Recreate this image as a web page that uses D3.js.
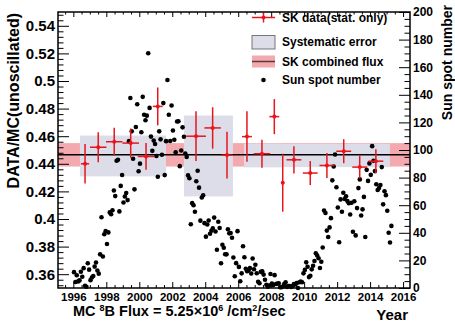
<!DOCTYPE html>
<html>
<head>
<meta charset="utf-8">
<script src="https://cdn.jsdelivr.net/npm/d3@7"></script>
<style>
  body { margin: 0; background: #fff; }
  svg { display: block; font-family: "Liberation Sans", Arial, Helvetica, sans-serif; }
  .ax text { font-weight: bold; fill: #000; }
  .ax line { stroke: #000; stroke-width: 1; }
</style>
</head>
<body>
<div id="chart"></div>
<script>
// ---- data ----
// SK yearly points: bin centre (year), DATA/MC, stat error, half bin width
const skYear = [1996.71, 1997.51, 1998.48, 1999.48, 2000.41, 2001.12, 2003.44, 2004.45, 2005.32,
                2006.53, 2007.44, 2008.19, 2008.7, 2009.38, 2010.37, 2011.38, 2012.4, 2013.37, 2014.35];
const skRatio = [0.440, 0.452, 0.456, 0.455, 0.4453, 0.4816, 0.460, 0.466, 0.4463,
                 0.4597, 0.4473, 0.4742, 0.4263, 0.4429, 0.4333, 0.4388, 0.4491, 0.4376, 0.4419];
const skErr = [0.0143, 0.0108, 0.0101, 0.0106, 0.0097, 0.0137, 0.018, 0.015, 0.017,
               0.0183, 0.0102, 0.0127, 0.021, 0.0099, 0.0087, 0.009, 0.0087, 0.0082, 0.0087];
const skHalfBin = [0.25, 0.5, 0.5, 0.5, 0.5, 0.3, 0.6, 0.5, 0.35,
                   0.3, 0.5, 0.3, 0.1, 0.45, 0.45, 0.45, 0.45, 0.45, 0.45];

// systematic error boxes per SK phase
const sysPhases = ["SK-I", "SK-II", "SK-III", "SK-IV"];
const sysStart = [1996.40, 2002.71, 2006.35, 2008.65];
const sysEnd = [2001.62, 2005.68, 2008.65, 2015.20];
const sysLow = [0.4309, 0.4164, 0.4374, 0.4376];
const sysHigh = [0.4605, 0.475, 0.4547, 0.4545];

// combined flux and its band
const combined = 0.4465;
const combinedLow = 0.438;
const combinedHigh = 0.455;

// monthly sun spot numbers, one row per year starting 1996
const ssnFirstYear = 1996;
const sunspots = [
  [11.5, 4.4, 9.2, 4.8, 5.5, 11.8, 8.2, 14.4, 1.6, 0.9, 17.9, 13.3],
  [5.7, 7.6, 8.7, 15.5, 18.5, 12.7, 10.4, 24.4, 51.3, 22.8, 39.0, 41.2],
  [31.9, 40.3, 54.8, 53.4, 56.3, 70.7, 66.6, 92.2, 92.9, 55.5, 74.0, 81.9],
  [62.0, 66.3, 68.8, 63.7, 106.4, 137.7, 113.5, 93.7, 71.5, 116.7, 133.2, 84.6],
  [90.1, 112.9, 138.5, 125.5, 121.6, 124.9, 170.1, 130.5, 109.7, 99.4, 106.8, 104.4],
  [95.6, 80.6, 113.5, 107.7, 96.6, 134.0, 81.8, 106.4, 150.7, 125.5, 106.5, 132.2],
  [114.1, 107.4, 98.4, 120.7, 120.8, 88.3, 99.6, 116.4, 109.6, 97.5, 95.0, 81.6],
  [79.5, 46.2, 61.5, 60.0, 55.2, 77.4, 85.0, 72.7, 48.8, 65.6, 67.2, 47.0],
  [37.2, 46.0, 48.9, 39.3, 41.5, 43.2, 51.0, 40.9, 27.7, 48.0, 43.5, 17.9],
  [31.3, 29.2, 24.5, 24.4, 42.6, 39.6, 39.9, 36.4, 22.1, 8.5, 18.0, 41.2],
  [15.3, 4.9, 10.6, 30.2, 22.3, 13.9, 12.2, 12.9, 14.4, 10.5, 21.4, 13.6],
  [16.8, 10.7, 4.5, 3.4, 11.7, 12.1, 9.7, 6.0, 2.4, 0.9, 1.7, 10.1],
  [3.3, 2.1, 9.3, 2.9, 3.2, 3.4, 0.5, 0.5, 1.1, 2.9, 4.1, 0.8],
  [1.5, 1.4, 0.7, 1.2, 2.9, 2.6, 3.5, 0.0, 4.2, 4.6, 4.2, 10.6],
  [13.1, 18.6, 15.4, 7.9, 8.8, 13.5, 16.1, 19.6, 25.2, 23.5, 21.6, 14.5],
  [19.0, 29.4, 56.2, 54.4, 41.6, 37.0, 43.9, 50.6, 78.0, 88.0, 96.7, 73.0],
  [58.3, 33.1, 64.2, 55.2, 69.0, 64.5, 66.5, 63.0, 61.4, 53.3, 61.8, 40.8],
  [62.9, 38.1, 57.9, 72.4, 78.7, 52.5, 57.0, 66.0, 37.0, 85.6, 77.6, 90.3],
  [82.0, 102.8, 92.2, 84.7, 75.2, 71.0, 72.4, 74.6, 87.6, 60.6, 70.1, 67.3],
  [56, 40, 33, 45]
];

// tick values
const yearTicks = [1996, 1998, 2000, 2002, 2004, 2006, 2008, 2010, 2012, 2014, 2016];
const ratioTicks = [0.36, 0.38, 0.4, 0.42, 0.44, 0.46, 0.48, 0.5, 0.52, 0.54];
const ssnTicks = [0, 20, 40, 60, 80, 100, 120, 140, 160, 180, 200];

const legendLabels = ["SK data(stat. only)", "Systematic error", "SK combined flux", "Sun spot number"];

// ---- layout ----
const svgWidth = 455, svgHeight = 325;
const margin = {top: 12, right: 45, bottom: 37, left: 58};
const w = svgWidth - margin.left - margin.right;
const h = svgHeight - margin.top - margin.bottom;

const red = "#e8151d";
const pink = "#f4a9ae";
const grey = "#dcdde9";

const root = d3.select("#chart").append("svg")
  .attr("width", svgWidth)
  .attr("height", svgHeight);
const svg = root.append("g")
  .attr("transform", `translate(${margin.left}, ${margin.top})`);

const x = d3.scaleLinear().domain([1995.07, 2016.42]).range([0, w]);
const y = d3.scaleLinear().domain([0.35, 0.55]).range([h, 0]);
const y2 = d3.scaleLinear().domain([0, 200]).range([h, 0]);

// flatten sunspots
const ssnData = [];
sunspots.forEach((row, i) => row.forEach((v, m) => {
  ssnData.push({t: ssnFirstYear + i + (m + 0.5) / 12, v: v});
}));

// combined flux band
svg.append("rect")
  .attr("x", 0).attr("width", w)
  .attr("y", y(combinedHigh)).attr("height", y(combinedLow) - y(combinedHigh))
  .attr("fill", pink);

// systematic boxes
svg.selectAll("rect.sys")
  .data(sysPhases)
  .enter().append("rect")
  .attr("class", "sys")
  .attr("x", (d, i) => x(sysStart[i]))
  .attr("width", (d, i) => x(sysEnd[i]) - x(sysStart[i]))
  .attr("y", (d, i) => y(sysHigh[i]))
  .attr("height", (d, i) => y(sysLow[i]) - y(sysHigh[i]))
  .attr("fill", grey);

// combined line
svg.append("line")
  .attr("x1", 0).attr("x2", w)
  .attr("y1", y(combined)).attr("y2", y(combined))
  .attr("stroke", "#000").attr("stroke-width", 1.5);

// sunspot dots
svg.selectAll("circle.ssn")
  .data(ssnData)
  .enter().append("circle")
  .attr("class", "ssn")
  .attr("cx", d => x(d.t))
  .attr("cy", d => y2(d.v))
  .attr("r", 2.3)
  .attr("fill", "#000");

// SK points
const sk = svg.selectAll("g.sk")
  .data(skYear)
  .enter().append("g")
  .attr("class", "sk");
sk.append("line")
  .attr("x1", (d, i) => x(d - skHalfBin[i]))
  .attr("x2", (d, i) => x(d + skHalfBin[i]))
  .attr("y1", (d, i) => y(skRatio[i]))
  .attr("y2", (d, i) => y(skRatio[i]))
  .attr("stroke", red).attr("stroke-width", 1.5);
sk.append("line")
  .attr("x1", d => x(d)).attr("x2", d => x(d))
  .attr("y1", (d, i) => y(skRatio[i] + skErr[i]))
  .attr("y2", (d, i) => y(skRatio[i] - skErr[i]))
  .attr("stroke", red).attr("stroke-width", 1.5);
sk.append("circle")
  .attr("cx", d => x(d))
  .attr("cy", (d, i) => y(skRatio[i]))
  .attr("r", 2)
  .attr("fill", red);

// ---- axes (ROOT style, ticks inside) ----
const fmtRatio = d => String(+d.toFixed(2));
const minorRatio = d3.range(0.352, 0.5499, 0.004).filter(v => !ratioTicks.some(t => Math.abs(t - v) < 1e-6));
const minorYear = d3.range(1995.5, 2016.42, 0.5).filter(v => v % 2 !== 0);
const minorSsn = d3.range(0, 201, 5).filter(v => v % 20 !== 0);

function styleAxis(g, size) {
  g.attr("class", "ax");
  g.select(".domain").remove();
  g.selectAll("text").style("font-size", size + "px");
}

svg.append("g")
  .call(d3.axisLeft(y).tickValues(ratioTicks).tickSize(-11).tickPadding(3).tickFormat(fmtRatio))
  .call(g => styleAxis(g, 15));
svg.append("g")
  .call(d3.axisLeft(y).tickValues(minorRatio).tickSize(-5.5).tickFormat(""))
  .call(g => styleAxis(g, 15));

svg.append("g")
  .attr("transform", `translate(0, ${h})`)
  .call(d3.axisBottom(x).tickValues(yearTicks).tickSize(-6).tickPadding(5).tickFormat(d3.format("d")))
  .call(g => styleAxis(g, 11.5));
svg.append("g")
  .attr("transform", `translate(0, ${h})`)
  .call(d3.axisBottom(x).tickValues(minorYear).tickSize(-3).tickFormat(""))
  .call(g => styleAxis(g, 11.5));

svg.append("g")
  .call(d3.axisTop(x).tickValues(yearTicks).tickSize(-5).tickFormat(""))
  .call(g => styleAxis(g, 11.5));
svg.append("g")
  .call(d3.axisTop(x).tickValues(minorYear).tickSize(-2.5).tickFormat(""))
  .call(g => styleAxis(g, 11.5));

svg.append("g")
  .attr("transform", `translate(${w}, 0)`)
  .call(d3.axisRight(y2).tickValues(ssnTicks).tickSize(-11).tickPadding(3).tickFormat(d3.format("d")))
  .call(g => styleAxis(g, 12));
svg.append("g")
  .attr("transform", `translate(${w}, 0)`)
  .call(d3.axisRight(y2).tickValues(minorSsn).tickSize(-5.5).tickFormat(""))
  .call(g => styleAxis(g, 12));

// frame
svg.append("rect")
  .attr("width", w).attr("height", h)
  .attr("fill", "none").attr("stroke", "#000").attr("stroke-width", 1.5);

// ---- legend ----
const leg = root.append("g");
const lx = 252, lw = 23;
leg.append("line").attr("x1", lx).attr("x2", lx + lw).attr("y1", 17.5).attr("y2", 17.5)
  .attr("stroke", red).attr("stroke-width", 1.5);
leg.append("line").attr("x1", lx + lw / 2).attr("x2", lx + lw / 2).attr("y1", 12.5).attr("y2", 22.5)
  .attr("stroke", red).attr("stroke-width", 1.5);
leg.append("circle").attr("cx", lx + lw / 2).attr("cy", 17.5).attr("r", 2).attr("fill", red);
leg.append("rect").attr("x", lx).attr("y", 35.5).attr("width", lw).attr("height", 13.5)
  .attr("fill", grey).attr("stroke", "#777").attr("stroke-width", 1);
leg.append("rect").attr("x", lx).attr("y", 55.5).attr("width", lw).attr("height", 12)
  .attr("fill", pink);
leg.append("line").attr("x1", lx).attr("x2", lx + lw).attr("y1", 61.5).attr("y2", 61.5)
  .attr("stroke", "#5a3a3a").attr("stroke-width", 1.5);
leg.append("circle").attr("cx", lx + lw / 2).attr("cy", 80).attr("r", 2.3).attr("fill", "#000");
const legY = [22, 46.3, 66.3, 84.3];
leg.selectAll("text")
  .data(legendLabels)
  .enter().append("text")
  .attr("x", 282)
  .attr("y", (d, i) => legY[i])
  .style("font-size", "12px")
  .style("font-weight", "bold")
  .text(d => d);

// ---- axis titles ----
root.append("text")
  .attr("transform", "translate(19, 13) rotate(-90)")
  .attr("text-anchor", "end")
  .style("font-size", "16px").style("font-weight", "bold")
  .text("DATA/MC(unoscillated)");

root.append("text")
  .attr("transform", "translate(452, 5) rotate(-90)")
  .attr("text-anchor", "end")
  .style("font-size", "14px").style("font-weight", "bold")
  .text("Sun spot number");

root.append("text")
  .attr("x", 408).attr("y", 320)
  .attr("text-anchor", "end")
  .style("font-size", "15px").style("font-weight", "bold")
  .text("Year");

const mc = root.append("text")
  .attr("x", 73).attr("y", 316)
  .style("font-size", "14.5px").style("font-weight", "bold");
mc.append("tspan").text("MC ");
mc.append("tspan").attr("dy", -5.5).style("font-size", "9px").text("8");
mc.append("tspan").attr("dy", 5.5).text("B Flux = 5.25×10");
mc.append("tspan").attr("dy", -5.5).style("font-size", "9px").text("6");
mc.append("tspan").attr("dy", 5.5).text(" /cm");
mc.append("tspan").attr("dy", -5.5).style("font-size", "9px").text("2");
mc.append("tspan").attr("dy", 5.5).text("/sec");
</script>
</body>
</html>
